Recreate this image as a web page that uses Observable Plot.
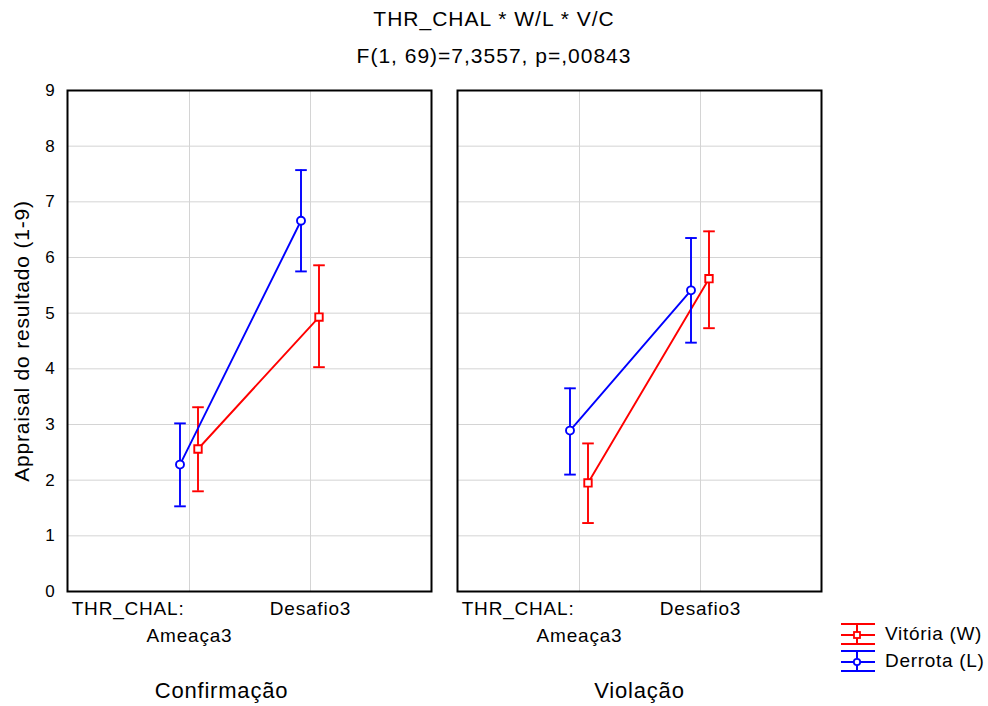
<!DOCTYPE html>
<html><head><meta charset="utf-8">
<script src="https://cdn.jsdelivr.net/npm/d3@7"></script>
<script src="https://cdn.jsdelivr.net/npm/@observablehq/plot@0.6"></script>
<style>
body{margin:0;background:#fff;font-family:"Liberation Sans",Arial,sans-serif;}
#wrap{position:relative;width:988px;height:706px;overflow:hidden;}
.t{position:absolute;left:0;width:988px;text-align:center;font-size:21px;letter-spacing:1px;color:#000;line-height:21px;}
#chart{position:absolute;top:75px;left:0;}
.lg{position:absolute;left:840px;height:24px;display:flex;align-items:center;font-size:19px;letter-spacing:0.7px;color:#000;}
.lg svg{margin-right:7px;}
</style></head>
<body><div id="wrap">
<div class="t" style="top:8px">THR_CHAL * W/L * V/C</div>
<div class="t" style="top:45px">F(1, 69)=7,3557, p=,00843</div>
<div id="chart"></div>
<div id="legend"></div>
</div>
<script>
const panels = ["Confirmação", "Violação"];
const thrChal = ["Ameaça3", "Desafio3"];
const groups = ["Vitória (W)", "Derrota (L)"];
const colors = ["#ff0000", "#0000ff"];
const symbols = ["square", "circle"];
// order: Confirmação-Ameaça3, Confirmação-Desafio3, Violação-Ameaça3, Violação-Desafio3
const vitoriaMean = [2.56, 4.93, 1.95, 5.62];
const vitoriaLo   = [1.80, 4.03, 1.23, 4.73];
const vitoriaHi   = [3.31, 5.86, 2.66, 6.47];
const derrotaMean = [2.28, 6.66, 2.89, 5.41];
const derrotaLo   = [1.53, 5.75, 2.10, 4.47];
const derrotaHi   = [3.02, 7.57, 3.65, 6.35];
const yTicks = [0, 1, 2, 3, 4, 5, 6, 7, 8, 9];
const xPrefix = "THR_CHAL:";

function rows(mean, lo, hi) {
  return mean.map((m, i) => ({panel: panels[Math.floor(i / 2)], cat: thrChal[i % 2], mean: m, lo: lo[i], hi: hi[i]}));
}
const series = [
  {name: groups[0], color: colors[0], symbol: symbols[0], r: 4.2, dx: 8.5, data: rows(vitoriaMean, vitoriaLo, vitoriaHi)},
  {name: groups[1], color: colors[1], symbol: symbols[1], r: 4, dx: -9.5, data: rows(derrotaMean, derrotaLo, derrotaHi)}
];

const cap = {draw(ctx, size) { const r = Math.sqrt(size / Math.PI); ctx.moveTo(-r, 0); ctx.lineTo(r, 0); }};

const marks = [
  Plot.gridY(yTicks, {stroke: "#d4d4d4", strokeOpacity: 1, strokeWidth: 1}),
  Plot.gridX(thrChal, {stroke: "#d4d4d4", strokeOpacity: 1, strokeWidth: 1}),
  Plot.frame({stroke: "#000", strokeWidth: 2}),
  Plot.axisY({ticks: yTicks, tickSize: 0, tickPadding: 12, fontSize: 17, label: null}),
  Plot.axisY({ticks: [], tickSize: 0, label: "Appraisal do resultado (1-9)", labelAnchor: "center", labelArrow: "none", labelOffset: 53, fontSize: 21}),
  Plot.axisX({tickSize: 0, tickPadding: 10, fontSize: 19, label: null, tickFormat: d => d === thrChal[0] ? "" : d}),
  Plot.axisX({ticks: [thrChal[0]], tickSize: 0, tickPadding: 37, fontSize: 19, label: null}),
  Plot.text([xPrefix], {x: () => thrChal[0], text: d => d, frameAnchor: "bottom", textAnchor: "end", lineAnchor: "top", dx: -5, dy: 10, fontSize: 19}),
  Plot.text([panels[0]], {fx: d => d, text: d => d, frameAnchor: "bottom", lineAnchor: "middle", dy: 99, dx: -28, fontSize: 22}),
  Plot.text([panels[1]], {fx: d => d, text: d => d, frameAnchor: "bottom", lineAnchor: "middle", dy: 99, dx: 0, fontSize: 22})
];
for (const s of series) {
  const common = {fx: "panel", x: "cat", stroke: s.color, strokeWidth: 1.9, dx: s.dx};
  marks.push(
    Plot.line(s.data, {...common, y: "mean"}),
    Plot.ruleX(s.data, {...common, y1: "lo", y2: "hi"}),
    Plot.dot(s.data, {...common, y: "hi", symbol: cap, r: 5.8}),
    Plot.dot(s.data, {...common, y: "lo", symbol: cap, r: 5.8}),
    Plot.dot(s.data, {...common, y: "mean", symbol: s.symbol, r: s.r, fill: "white"})
  );
}

const chart = Plot.plot({
  width: 988, height: 631,
  marginTop: 15, marginBottom: 115, marginLeft: 67, marginRight: 166,
  style: {fontFamily: "'Liberation Sans', Arial, sans-serif", color: "#000", background: "white", letterSpacing: "0.8px"},
  fx: {domain: panels, paddingInner: 0.0666, paddingOuter: 0, axis: null, label: null},
  x: {type: "point", domain: thrChal, padding: 1, axis: null},
  y: {domain: [0, 9], axis: null},
  marks
});
document.getElementById("chart").appendChild(chart);

const leg = document.getElementById("legend");
series.forEach((s, i) => {
  const div = document.createElement("div");
  div.className = "lg";
  div.style.top = (622 + i * 26.5) + "px";
  const mk = s.symbol === "square"
    ? `<rect x="14" y="10" width="6" height="6" fill="white" stroke="${s.color}" stroke-width="1.8"/>`
    : `<circle cx="17" cy="13" r="3.2" fill="white" stroke="${s.color}" stroke-width="1.8"/>`;
  div.innerHTML = `<svg width="38" height="24"><g stroke="${s.color}" stroke-width="2">
    <line x1="1" x2="35" y1="2" y2="2"/><line x1="1" x2="35" y1="13" y2="13"/><line x1="1" x2="35" y1="22" y2="22"/>
    <line x1="17" x2="17" y1="2" y2="22"/></g>${mk}</svg><span>${s.name}</span>`;
  leg.appendChild(div);
});
</script>
</body></html>
